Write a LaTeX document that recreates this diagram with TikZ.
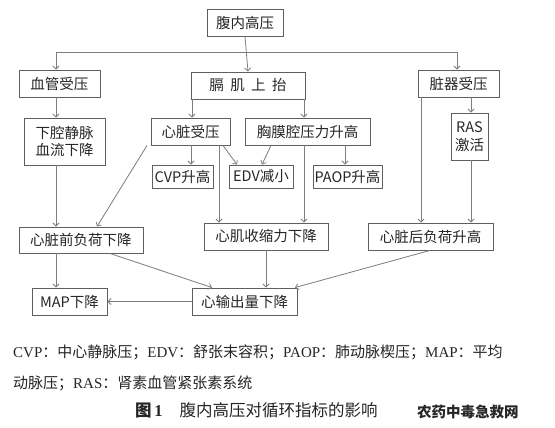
\documentclass[tikz,border=0pt]{standalone}
\usepackage{fontspec}
\setmainfont{Liberation Serif}
\newfontfamily\cjk{Noto Sans CJK SC}
\usetikzlibrary{arrows.meta}
\definecolor{boxgray}{RGB}{95,95,95}
\definecolor{linegray}{RGB}{125,125,125}
\tikzset{>={Straight Barb[length=3pt,width=6pt]}}
\tikzset{box/.style={draw=boxgray, line width=0.9pt, inner sep=0pt, align=center,
    font=\cjk\fontsize{14.5}{17.5}\selectfont, text=black!85}}
\tikzset{link/.style={->, draw=linegray, line width=0.8pt}}
\tikzset{note/.style={anchor=west, inner sep=0pt, font=\fontsize{15}{17}\selectfont, text=black!85}}

\begin{document}
\begin{tikzpicture}[x=1pt, y=-1pt]
  \useasboundingbox[fill=white] (0,0) rectangle (555,428);
  % boxes
  \node[box, minimum width=76, minimum height=27] (top) at (245,22.5) {腹内高压};
  \node[box, minimum width=81, minimum height=27] (vg) at (59.5,83.5) {血管受压};
  \node[box, minimum width=114, minimum height=27] (gj) at (248,85.5) {膈\ \ 肌\ \ 上\ \ 抬};
  \node[box, minimum width=81, minimum height=27] (zq) at (458.5,83.5) {脏器受压};
  \node[box, minimum width=81, minimum height=47] (xq) at (64.5,141.5) {下腔静脉\\血流下降};
  \node[box, minimum width=79, minimum height=27] (xz) at (190.5,131.5) {心脏受压};
  \node[box, minimum width=125, minimum height=27] (xm) at (307.5,131.5) {胸膜腔压力升高};
  \node[box, minimum width=37, minimum height=47] (ras) at (469.5,136.5) {RAS\\激活};
  \node[box, minimum width=61, minimum height=23] (cvp) at (182.5,176.5) {CVP升高};
  \node[box, minimum width=64, minimum height=23] (edv) at (261,176.5) {EDV减小};
  \node[box, minimum width=69, minimum height=23] (paop) at (347.5,176.5) {PAOP升高};
  \node[box, minimum width=124, minimum height=26] (qfh) at (81,240) {心脏前负荷下降};
  \node[box, minimum width=124, minimum height=27] (sjs) at (266,236.5) {心肌收缩力下降};
  \node[box, minimum width=125, minimum height=27] (hfh) at (430.5,236.5) {心脏后负荷升高};
  \node[box, minimum width=75, minimum height=27] (map) at (69.5,301.5) {MAP下降};
  \node[box, minimum width=105, minimum height=27] (co) at (244.5,301.5) {心输出量下降};
  % connectors
  \draw[link] (top.south) -- (gj.north);
  \draw[link] (top.south |- 0,52) -| (vg.north -| 56,0);
  \draw[link] (top.south |- 0,52) -| (zq.north -| 457,0);
  \draw[link] (vg.south -| 56,0) -- (xq.north -| 56,0);
  \draw[link] (gj.south -| 192,0) -- (xz.north -| 192,0);
  \draw[link] (gj.south -| 304,0) -- (xm.north -| 304,0);
  \draw[link] (zq.south -| 421,0) -- (hfh.north -| 421,0);
  \draw[link] (zq.south -| 471,0) -- (ras.north -| 471,0);
  \draw[link] (xz.south -| 191,0) -- (cvp.north -| 191,0);
  \draw[link] (xz.south -| 223,0) -- (edv.north -| 237,0);
  \draw[link] (xm.south -| 271,0) -- (edv.north -| 262,0);
  \draw[link] (xm.south -| 345,0) -- (paop.north -| 345,0);
  \draw[link] (xz.south -| 219,0) -- (sjs.north -| 219,0);
  \draw[link] (xm.south -| 304,0) -- (sjs.north -| 304,0);
  \draw[link] (xz.south -| 147,0) -- (qfh.north -| 97,0);
  \draw[link] (xq.south -| 56,0) -- (qfh.north -| 56,0);
  \draw[link] (ras.south -| 471,0) -- (hfh.north -| 471,0);
  \draw[link] (qfh.south -| 56,0) -- (map.north -| 56,0);
  \draw[link] (qfh.south -| 110,0) -- (co.north -| 212,0);
  \draw[link] (sjs.south -| 266,0) -- (co.north -| 266,0);
  \draw[link] (hfh.south -| 430,0) -- (co.north -| 295,0);
  \draw[link] (co.west) -- (map.east);
  % legend and caption
  \node[note] (leg1) at (13,352) {CVP{\cjk ：中心静脉压；}EDV{\cjk ：舒张末容积；}PAOP{\cjk ：肺动脉楔压；}MAP{\cjk ：平均}};
  \node[note] (leg2) at (13,383) {{\cjk 动脉压；}RAS{\cjk ：肾素血管紧张素系统}};
  \node[note, font=\cjk\fontsize{16.5}{18}\selectfont] (cap) at (135,410) {{\bfseries 图\,\rmfamily\bfseries 1}\hspace{17pt}腹内高压对循环指标的影响};
  \node[note, font=\cjk\bfseries\fontsize{14.5}{17}\selectfont] (mark) at (417,412) {农药中毒急救网};
\end{tikzpicture}
\end{document}
